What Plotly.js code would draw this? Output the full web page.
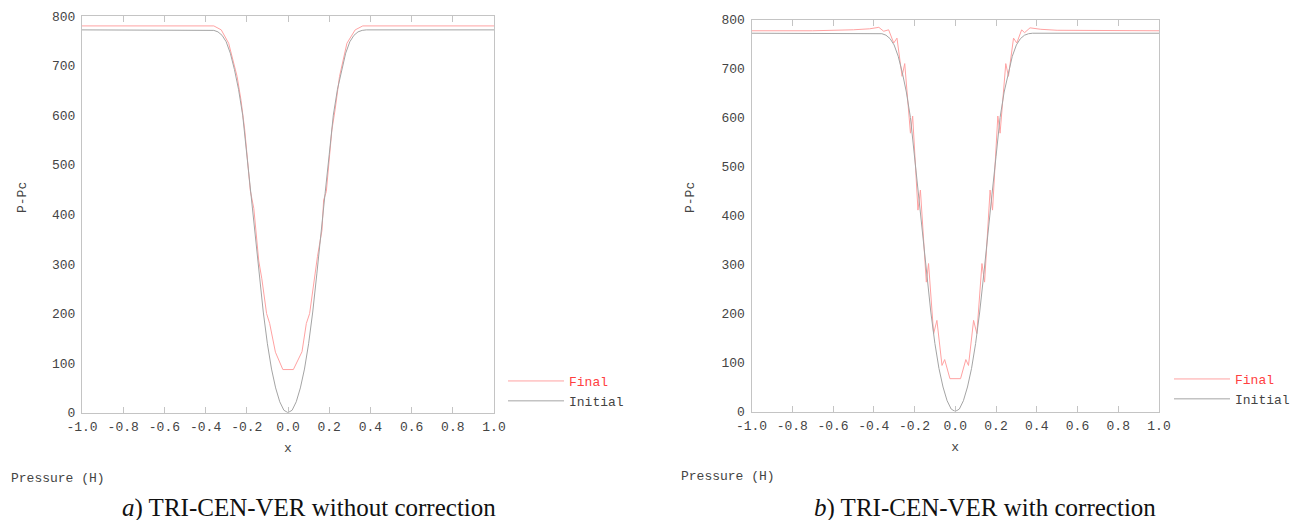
<!DOCTYPE html>
<html>
<head>
<meta charset="utf-8">
<script src="https://cdn.plot.ly/plotly-3.0.1.min.js"></script>
<style>html,body{margin:0;padding:0;background:#fff;}#chart{width:1298px;height:520px;}</style>
</head>
<body>
<div id="chart"></div>
<script>
// ---- data ----
const initX = [-1, -0.4, -0.38, -0.36, -0.34, -0.32, -0.30, -0.28, -0.26, -0.24, -0.22, -0.20, -0.18, -0.16, -0.14, -0.12, -0.10, -0.08, -0.06, -0.04, -0.02,
  0, 0.02, 0.04, 0.06, 0.08, 0.10, 0.12, 0.14, 0.16, 0.18, 0.20, 0.22, 0.24, 0.26, 0.28, 0.30, 0.32, 0.34, 0.36, 0.38, 0.4, 1];
const initY = [772, 772, 772, 771, 768, 761, 748, 725, 692, 652, 600, 520, 442, 368, 280, 203, 139, 88, 50, 22, 5,
  0, 5, 22, 50, 88, 139, 203, 280, 368, 442, 520, 600, 652, 692, 725, 748, 761, 768, 771, 772, 772, 772];

// a) without correction
const finalAX = [-1, -0.36, -0.324, -0.288, -0.247, -0.228, -0.21, -0.199, -0.183, -0.166, -0.142, -0.127, -0.104, -0.089, -0.061, -0.025,
  0.026, 0.068, 0.089, 0.105, 0.127, 0.143, 0.165, 0.173, 0.186, 0.197, 0.213, 0.229, 0.25, 0.286, 0.326, 0.363, 1];
const finalAY = [780, 780, 772, 745, 678, 630, 570, 525, 448, 412, 306, 270, 200, 180, 122, 87,
  87, 123, 180, 200, 270, 315, 368, 429, 446, 503, 570, 612, 678, 745, 772, 780, 780];

// b) with correction
const finalBX = [-1, -0.7, -0.5, -0.42, -0.375, -0.351, -0.327, -0.302, -0.286, -0.261, -0.248, -0.220, -0.209, -0.183, -0.171, -0.142, -0.131,
  -0.106, -0.090, -0.065, -0.052, -0.026, 0.026, 0.052, 0.065, 0.090, 0.106, 0.131, 0.144, 0.171, 0.183, 0.209, 0.220,
  0.248, 0.261, 0.286, 0.302, 0.326, 0.340, 0.367, 0.42, 0.5, 1];
const finalBY = [777, 777, 779, 781, 784, 776, 779, 752, 762, 684, 710, 568, 603, 411, 452, 264, 302,
  159, 186, 94, 106, 67, 67, 106, 94, 186, 159, 302, 264, 452, 411, 603, 568,
  710, 684, 762, 752, 779, 773, 783, 780, 778, 777];

const xTickVals = [-1.0, -0.8, -0.6, -0.4, -0.2, 0.0, 0.2, 0.4, 0.6, 0.8, 1.0];
const xTickText = ['-1.0', '-0.8', '-0.6', '-0.4', '-0.2', '0.0', '0.2', '0.4', '0.6', '0.8', '1.0'];
const yTickVals = [0, 100, 200, 300, 400, 500, 600, 700, 800];

const seriesNames = ['Final', 'Initial'];
const captionA = '<i>a</i>) TRI-CEN-VER without correction';
const captionB = '<i>b</i>) TRI-CEN-VER with correction';

// ---- styling ----
const W = 1298, H = 520;
const px = v => v / W;
const py = v => 1 - v / H;
const MONO = 'Liberation Mono, Courier New, monospace';
const SERIF = 'Liberation Serif, Times New Roman, serif';
const RED = '#ffa2a2';
const GRAY = '#a4a4a4';
const AXC = '#c4c4c4';
const TXT = '#444444';

const traces = [
  {x: finalAX, y: finalAY, xaxis: 'x', yaxis: 'y', mode: 'lines', name: '<span style="color:#ff4040">' + seriesNames[0] + '</span>',
   line: {color: RED, width: 1}, legend: 'legend'},
  {x: initX, y: initY, xaxis: 'x', yaxis: 'y', mode: 'lines', name: seriesNames[1],
   line: {color: GRAY, width: 1}, legend: 'legend'},
  {x: finalBX, y: finalBY, xaxis: 'x2', yaxis: 'y2', mode: 'lines', name: '<span style="color:#ff4040">' + seriesNames[0] + '</span>',
   line: {color: RED, width: 1}, legend: 'legend2'},
  {x: initX, y: initY, xaxis: 'x2', yaxis: 'y2', mode: 'lines', name: seriesNames[1],
   line: {color: GRAY, width: 1}, legend: 'legend2'}
];

function xAxis(domain, anchor) {
  return {
    domain: domain, anchor: anchor, range: [-1, 1], tickmode: 'array', tickvals: xTickVals, ticktext: xTickText,
    ticks: 'inside', ticklen: 6, tickcolor: AXC, showline: true, linecolor: AXC, linewidth: 1, mirror: 'ticks',
    ticklabelstandoff: 2,
    showgrid: false, zeroline: false, tickfont: {family: MONO, size: 13, color: TXT},
    title: {text: 'x', font: {family: MONO, size: 13, color: TXT}, standoff: 8}
  };
}
function yAxis(domain, anchor) {
  return {
    domain: domain, anchor: anchor, range: [0, 800], tickmode: 'array', tickvals: yTickVals,
    ticks: '', showline: true, linecolor: AXC, linewidth: 1, mirror: true, ticklabelstandoff: 3,
    showgrid: false, zeroline: false, tickfont: {family: MONO, size: 13, color: TXT}
  };
}
function yRight(overlay, anchor) {
  return {
    overlaying: overlay, anchor: anchor, side: 'right', range: [0, 800], tickmode: 'array', tickvals: yTickVals,
    ticks: 'inside', ticklen: 6, tickcolor: AXC, showticklabels: false, showline: false, showgrid: false, zeroline: false
  };
}

const legendBase = {
  xanchor: 'left', yanchor: 'top', bgcolor: 'rgba(0,0,0,0)', borderwidth: 0,
  font: {family: MONO, size: 13, color: TXT}, itemwidth: 56, tracegroupgap: 0
};

const layout = {
  width: W, height: H, margin: {l: 0, r: 0, t: 0, b: 0},
  paper_bgcolor: '#fff', plot_bgcolor: '#fff', hovermode: false,
  xaxis: xAxis([px(82), px(494)], 'y'),
  yaxis: yAxis([py(412.7), py(16)], 'x'),
  yaxis3: yRight('y', 'x'),
  xaxis2: xAxis([px(751.5), px(1159)], 'y2'),
  yaxis2: yAxis([py(411.5), py(19.5)], 'x2'),
  yaxis4: yRight('y2', 'x2'),
  legend: Object.assign({}, legendBase, {x: px(503), y: py(366)}),
  legend2: Object.assign({}, legendBase, {x: px(1169), y: py(364)}),
  showlegend: true,
  annotations: [
    {text: 'P-Pc', xref: 'paper', yref: 'paper', x: px(22), y: py(198), textangle: -90, showarrow: false,
     xanchor: 'center', yanchor: 'middle', font: {family: MONO, size: 13, color: TXT}},
    {text: 'P-Pc', xref: 'paper', yref: 'paper', x: px(690), y: py(198), textangle: -90, showarrow: false,
     xanchor: 'center', yanchor: 'middle', font: {family: MONO, size: 13, color: TXT}},
    {text: 'Pressure (H)', xref: 'paper', yref: 'paper', x: px(9), y: py(478), showarrow: false,
     xanchor: 'left', yanchor: 'middle', font: {family: MONO, size: 13, color: TXT}},
    {text: 'Pressure (H)', xref: 'paper', yref: 'paper', x: px(679), y: py(476), showarrow: false,
     xanchor: 'left', yanchor: 'middle', font: {family: MONO, size: 13, color: TXT}},
    {text: captionA, xref: 'paper', yref: 'paper', x: px(309), y: py(508), showarrow: false, borderpad: 3,
     xanchor: 'center', yanchor: 'middle', font: {family: SERIF, size: 25, color: '#111'}},
    {text: captionB, xref: 'paper', yref: 'paper', x: px(985), y: py(508), showarrow: false, borderpad: 3,
     xanchor: 'center', yanchor: 'middle', font: {family: SERIF, size: 25, color: '#111'}}
  ]
};

Plotly.newPlot('chart', traces, layout, {displayModeBar: false, staticPlot: true});
</script>
</body>
</html>
